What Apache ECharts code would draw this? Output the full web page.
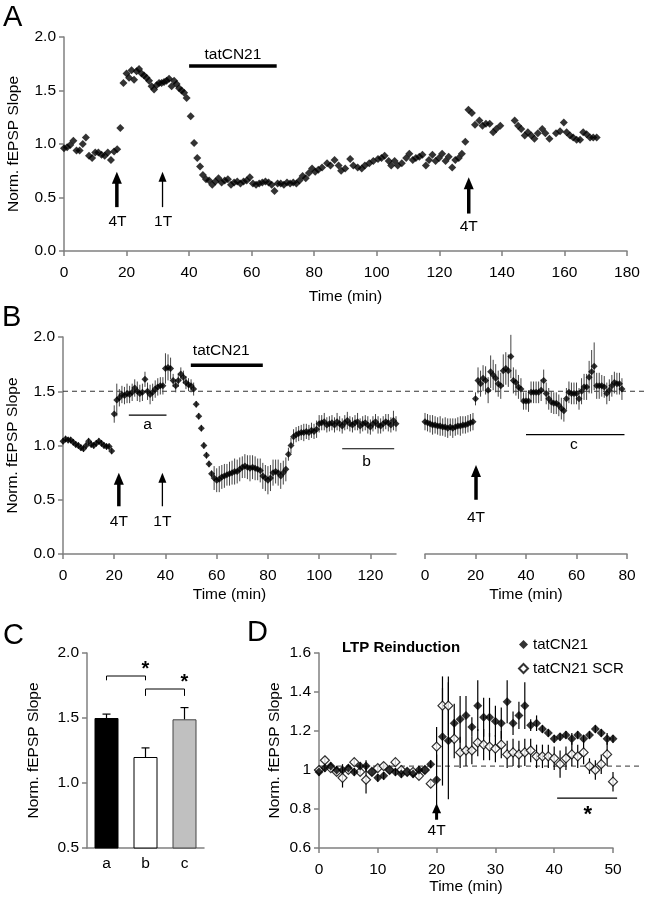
<!DOCTYPE html>
<html><head><meta charset="utf-8">
<script src="https://cdn.jsdelivr.net/npm/echarts@6/dist/echarts.min.js"></script>
<style>html,body{margin:0;padding:0;background:#fff}#c{width:648px;height:900px}</style>
</head><body><div id="c"></div>
<script>
// ---------- DATA ----------
// Panel A: single experiment, time (min) and normalized slope
const aTime = [0,1,2,3,4,5,6,7,8,9,10,11,12,13,14,15,16,17,18,19,20,20.8,21.6,22.4,23.2,24,24.8,25.6,26.4,27.2,28,28.8,29.6,30.4,31.2,32,32.8,33.6,34.4,35.2,36,36.8,37.6,38.4,39.2,40.5,41.6,42.6,43.5,44.4,45.4,46.4,47.4,48.4,49.4,50.4,51.4,52.4,53.4,54.4,55.4,56.4,57.4,58.4,59.4,60.4,61.4,62.4,63.4,64.4,65.4,66.4,67.3,68.3,69.3,70.3,71.3,72.3,73.3,74.3,75.3,76.3,77.3,78.3,79.3,80.3,81.3,82.5,84.1,85.2,86.5,87.8,88.6,89.9,91.5,92.5,93.9,95.2,96.2,97.6,98.9,100.4,101.5,102.5,103.8,104.6,105.7,106.7,108,109.4,110.4,111.5,112.5,113.6,114.6,115.7,116.7,117.8,118.8,119.9,120.9,122,123,124.1,125.1,126.2,127.2,128.3,129.3,130.4,131.4,132.8,133.8,134.9,136.1,137.2,138.2,139.5,144.1,145.2,146.2,147.3,148.3,149.4,150.4,151.5,152.9,153.9,155.2,157.3,158.6,159.8,160.7,161.8,162.8,163.9,165,166,167.1,168.2,169.2,170.3];
const aSlope = [0.96,0.97,0.99,1.03,0.94,0.94,1.00,1.06,0.89,0.87,0.92,0.92,0.90,0.89,0.92,0.85,0.93,0.95,1.15,1.57,1.66,1.62,1.69,1.60,1.68,1.70,1.66,1.64,1.62,1.59,1.54,1.51,1.55,1.57,1.57,1.58,1.59,1.61,1.54,1.59,1.56,1.52,1.50,1.48,1.43,1.26,1.01,0.87,0.79,0.71,0.67,0.66,0.62,0.65,0.68,0.64,0.66,0.67,0.62,0.64,0.65,0.63,0.65,0.66,0.69,0.63,0.62,0.63,0.64,0.65,0.64,0.62,0.56,0.63,0.63,0.62,0.64,0.63,0.64,0.63,0.66,0.70,0.68,0.73,0.77,0.74,0.76,0.78,0.82,0.80,0.85,0.80,0.75,0.77,0.86,0.80,0.78,0.77,0.80,0.82,0.84,0.86,0.87,0.89,0.84,0.80,0.84,0.80,0.82,0.87,0.91,0.85,0.87,0.88,0.90,0.80,0.85,0.90,0.84,0.87,0.91,0.84,0.88,0.78,0.85,0.87,0.91,1.02,1.32,1.29,1.18,1.22,1.17,1.19,1.19,1.11,1.14,1.17,1.22,1.17,1.14,1.08,1.11,1.08,1.05,1.10,1.14,1.10,1.05,1.10,1.12,1.20,1.11,1.08,1.06,1.04,1.04,1.11,1.09,1.06,1.06,1.06];

// Panel B (left): mean ± SEM, one point per minute from 0 to 130
const bLeftMean = [1.04,1.06,1.05,1.05,1.03,1.01,1.00,0.98,0.97,1.00,1.04,1.01,1.00,1.02,1.04,1.02,1.00,0.99,0.99,0.95,
  1.29,1.42,1.44,1.47,1.46,1.48,1.47,1.49,1.53,1.50,1.48,1.49,1.61,1.50,1.47,1.49,1.52,1.54,1.55,1.55,1.71,1.72,1.71,1.60,1.55,1.60,1.66,1.63,1.58,1.56,1.55,1.52,
  1.38,1.27,1.16,1.00,0.91,0.83,0.74,0.70,0.68,0.69,0.71,0.72,0.73,0.74,0.75,0.76,0.76,0.78,0.80,0.81,0.80,0.79,0.80,0.79,0.78,0.77,0.72,0.70,0.68,0.70,0.75,0.76,0.75,0.72,0.75,0.78,0.92,
  1.00,1.08,1.10,1.11,1.12,1.12,1.13,1.12,1.14,1.13,1.15,1.20,1.21,1.22,1.19,1.20,
  1.21,1.19,1.22,1.20,1.18,1.21,1.23,1.20,1.19,1.21,1.22,1.18,1.20,1.21,1.19,1.17,1.20,1.22,1.19,1.18,1.20,1.22,1.21,1.19,1.23,1.20];
const bLeftSem = [0.03,0.03,0.03,0.03,0.03,0.03,0.03,0.03,0.03,0.03,0.03,0.03,0.03,0.03,0.03,0.03,0.03,0.03,0.03,0.03,
  0.08,0.15,0.08,0.08,0.08,0.09,0.08,0.08,0.08,0.09,0.08,0.08,0.07,0.08,0.09,0.08,0.08,0.08,0.08,0.08,0.14,0.12,0.10,0.06,0.06,0.06,0.06,0.06,0.06,0.06,0.06,0.06,
  0.03,0.03,0.03,0.03,0.03,0.03,0.03,0.11,0.11,0.12,0.11,0.11,0.10,0.11,0.11,0.12,0.11,0.11,0.10,0.11,0.11,0.12,0.11,0.11,0.10,0.11,0.12,0.12,0.13,0.12,0.12,0.11,0.12,0.12,0.11,0.11,0.06,
  0.07,0.07,0.07,0.07,0.07,0.08,0.07,0.07,0.07,0.07,0.08,0.08,0.07,0.08,0.07,0.07,
  0.07,0.07,0.08,0.07,0.07,0.07,0.08,0.07,0.07,0.07,0.08,0.07,0.07,0.07,0.08,0.07,0.07,0.07,0.08,0.07,0.07,0.07,0.08,0.07,0.09,0.07];

// Panel B (right): mean ± SEM, one point per minute from 0 to 78
const bRightMean = [1.22,1.21,1.20,1.19,1.19,1.18,1.18,1.17,1.17,1.16,1.17,1.16,1.17,1.18,1.18,1.19,1.19,1.20,1.21,1.22,
  1.43,1.60,1.57,1.62,1.60,1.51,1.68,1.65,1.62,1.57,1.55,1.69,1.71,1.69,1.82,1.60,1.58,1.54,1.52,1.41,1.41,1.41,1.49,1.49,1.49,1.49,1.51,1.60,1.48,1.43,
  1.40,1.39,1.39,1.37,1.34,1.32,1.43,1.49,1.48,1.48,1.48,1.43,1.50,1.54,1.54,1.63,1.68,1.73,1.55,1.55,1.55,1.54,1.48,1.51,1.55,1.58,1.57,1.57,1.52];
const bRightSem = [0.08,0.08,0.08,0.09,0.08,0.08,0.09,0.08,0.09,0.09,0.08,0.09,0.08,0.08,0.09,0.08,0.08,0.08,0.08,0.08,
  0.06,0.12,0.12,0.12,0.13,0.12,0.15,0.14,0.13,0.12,0.12,0.15,0.15,0.15,0.2,0.12,0.12,0.11,0.1,0.08,0.08,0.1,0.1,0.1,0.1,0.1,0.1,0.1,0.1,0.1,
  0.1,0.1,0.1,0.1,0.1,0.1,0.1,0.1,0.1,0.1,0.1,0.1,0.12,0.12,0.12,0.15,0.2,0.22,0.12,0.12,0.1,0.1,0.1,0.1,0.1,0.1,0.1,0.1,0.1];
const bReference = 1.5;

// Panel C: period averages
const cCats = ['a','b','c'];
const cMean = [1.50, 1.20, 1.49];
const cSem = [0.03, 0.07, 0.09];

// Panel D: LTP reinduction, one point per minute 0..50
const dFilled = [0.99,1.01,1.02,1.00,1.00,1.01,0.99,1.02,1.02,0.99,0.96,0.97,1.00,0.99,0.98,0.99,0.98,1.00,1.00,1.03,0.95,1.17,1.15,1.24,1.26,1.28,1.22,1.33,1.27,1.27,1.25,1.24,1.35,1.24,1.28,1.33,1.23,1.24,1.21,1.19,1.16,1.17,1.18,1.16,1.18,1.16,1.18,1.21,1.19,1.16,1.16];
const dFilledSem = [0.02,0.02,0.02,0.02,0.03,0.02,0.02,0.02,0.03,0.02,0.02,0.02,0.02,0.02,0.02,0.02,0.02,0.02,0.02,0.02,0.13,0.25,0.3,0.1,0.12,0.1,0.05,0.13,0.1,0.1,0.08,0.08,0.11,0.06,0.07,0.12,0.03,0.04,0.02,0.02,0.02,0.02,0.02,0.03,0.02,0.02,0.02,0.02,0.02,0.03,0.02];
const dOpen = [1.00,1.05,1.01,0.99,0.96,1.00,1.04,0.99,0.95,0.99,1.01,1.02,1.00,1.04,1.00,0.99,0.99,0.97,1.00,0.93,1.12,1.33,1.33,1.16,1.09,1.10,1.10,1.14,1.13,1.12,1.11,1.13,1.08,1.09,1.08,1.09,1.10,1.07,1.07,1.07,1.06,1.03,1.06,1.08,1.07,1.09,1.02,1.00,1.03,1.08,0.94];
const dOpenSem = [0.02,0.02,0.02,0.02,0.05,0.02,0.02,0.02,0.07,0.02,0.02,0.02,0.02,0.02,0.02,0.02,0.02,0.02,0.02,0.02,0.1,0.15,0.15,0.1,0.08,0.08,0.07,0.07,0.08,0.07,0.07,0.07,0.07,0.07,0.07,0.07,0.06,0.06,0.06,0.06,0.06,0.07,0.06,0.06,0.06,0.06,0.04,0.05,0.05,0.06,0.05];
const dReference = 1.02;
const dNames = ['tatCN21', 'tatCN21 SCR'];

// ---------- CHART ----------
const FONT = '"Liberation Sans", Arial, sans-serif';
const AX = '#808080';
const chart = echarts.init(document.getElementById('c'), null, {renderer: 'canvas'});

function axis(o) {
  const base = {
    type: 'value', nameLocation: 'middle',
    axisLine: {show: true, lineStyle: {color: AX, width: 1.5}},
    axisTick: {show: true, length: 5, lineStyle: {color: AX, width: 1.5}},
    axisLabel: {color: '#000', fontSize: 15.5, fontFamily: FONT},
    splitLine: {show: false},
    nameTextStyle: {color: '#000', fontSize: 15.5, fontFamily: FONT}
  };
  const r = Object.assign({}, base, o);
  ['axisLine','axisTick','axisLabel','nameTextStyle'].forEach(k => { if (o[k]) r[k] = Object.assign({}, base[k], o[k]); });
  return r;
}
const hidden = o => Object.assign({type: 'value', show: false, splitLine: {show: false}}, o);

const zip = (xs, ys) => xs.map((x, i) => [x, ys[i]]);
const idx = arr => arr.map((v, i) => i);

function errSeries(xi, yi, xs, m, e, color, lw) {
  return {
    type: 'custom', xAxisIndex: xi, yAxisIndex: yi, silent: true, z: 2,
    data: xs.map((x, i) => [x, m[i], e[i]]),
    renderItem: (p, api) => {
      const a = api.coord([api.value(0), api.value(1) + api.value(2)]);
      const b = api.coord([api.value(0), api.value(1) - api.value(2)]);
      return {type: 'line', shape: {x1: a[0], y1: a[1], x2: b[0], y2: b[1]}, style: {stroke: color, lineWidth: lw}};
    }
  };
}

function annSeries(xi, yi, items) {
  return {
    type: 'custom', xAxisIndex: xi, yAxisIndex: yi, silent: true, z: 5,
    data: items.map(it => [it.x !== undefined ? it.x : it.x0, it.y !== undefined ? it.y : it.y0]),
    renderItem: (p, api) => {
      const it = items[p.dataIndex];
      if (it.kind === 'arrow') {
        const b = api.coord([it.x, it.y0]), t = api.coord([it.x, it.y1]);
        return {type: 'group', children: [
          {type: 'line', shape: {x1: b[0], y1: b[1], x2: t[0], y2: t[1] + it.hl - 1}, style: {stroke: '#000', lineWidth: it.w}},
          {type: 'polygon', shape: {points: [[t[0], t[1]], [t[0] - it.hw / 2, t[1] + it.hl], [t[0] + it.hw / 2, t[1] + it.hl]]}, style: {fill: '#000'}}
        ]};
      }
      if (it.kind === 'hbar') {
        const a = api.coord([it.x0, it.y]), b = api.coord([it.x1, it.y]);
        return {type: 'line', shape: {x1: a[0], y1: a[1], x2: b[0], y2: b[1]}, style: {stroke: '#000', lineWidth: it.w}};
      }
      if (it.kind === 'bracket') {
        const a = api.coord([it.x0, it.y0]), b = api.coord([it.x1, it.y0]);
        const a2 = api.coord([it.x0, it.y1]), b2 = api.coord([it.x1, it.y1]);
        return {type: 'polyline', shape: {points: [a2, a, b, b2]}, style: {stroke: '#000', lineWidth: 1, fill: null}};
      }
      if (it.kind === 'text') {
        const c = api.coord([it.x, it.y]);
        return {type: 'text', x: c[0], y: c[1], style: {text: it.text, fill: '#000', fontSize: it.size || 15.5, fontFamily: FONT, fontWeight: it.bold ? 'bold' : 'normal', align: 'center', verticalAlign: 'middle'}};
      }
    }
  };
}

const THICK = {w: 3.5, hw: 10, hl: 12};
const THIN = {w: 1.3, hw: 8, hl: 10};

const option = {
  animation: false,
  backgroundColor: '#fff',
  textStyle: {fontFamily: FONT},
  grid: [
    {left: 64, top: 37, width: 563, height: 214, outerBoundsMode: 'none', containLabel: false},
    {left: 63, top: 337, width: 333, height: 217, outerBoundsMode: 'none', containLabel: false},
    {left: 425, top: 337, width: 202, height: 217, outerBoundsMode: 'none', containLabel: false},
    {left: 63, top: 337, width: 585, height: 217, outerBoundsMode: 'none', containLabel: false},
    {left: 87, top: 653, width: 117, height: 195, outerBoundsMode: 'none', containLabel: false},
    {left: 319, top: 653, width: 294, height: 195, outerBoundsMode: 'none', containLabel: false},
    {left: 319, top: 653, width: 324, height: 195, outerBoundsMode: 'none', containLabel: false}
  ],
  xAxis: [
    axis({gridIndex: 0, min: 0, max: 180, interval: 20, name: 'Time (min)', nameGap: 38, axisLabel: {margin: 14}}),
    axis({gridIndex: 1, min: 0, max: 130, interval: 20, name: 'Time (min)', nameGap: 33, axisLabel: {margin: 14, showMaxLabel: false}}),
    axis({gridIndex: 2, min: 0, max: 80, interval: 20, name: 'Time (min)', nameGap: 33, axisLabel: {margin: 14}}),
    hidden({gridIndex: 3, min: 0, max: 1}),
    axis({gridIndex: 4, type: 'category', data: cCats, axisTick: {show: false}, axisLabel: {margin: 8}}),
    axis({gridIndex: 5, min: 0, max: 50, interval: 10, name: 'Time (min)', nameGap: 31, axisLabel: {margin: 14}}),
    hidden({gridIndex: 6, min: 0, max: 55})
  ],
  yAxis: [
    axis({gridIndex: 0, min: 0, max: 2, interval: 0.5, name: 'Norm. fEPSP Slope', nameGap: 42, axisLabel: {formatter: v => v.toFixed(1)}}),
    axis({gridIndex: 1, min: 0, max: 2, interval: 0.5, name: 'Norm. fEPSP Slope', nameGap: 42, axisLabel: {formatter: v => v.toFixed(1)}}),
    hidden({gridIndex: 2, min: 0, max: 2}),
    hidden({gridIndex: 3, min: 0, max: 2}),
    axis({gridIndex: 4, min: 0.5, max: 2, interval: 0.5, name: 'Norm. fEPSP Slope', nameGap: 45, axisLabel: {formatter: v => v.toFixed(1)}}),
    axis({gridIndex: 5, min: 0.6, max: 1.6, interval: 0.2, name: 'Norm. fEPSP Slope', nameGap: 36}),
    hidden({gridIndex: 6, min: 0.6, max: 1.6})
  ],
  legend: {
    orient: 'vertical', left: 513, top: 632, itemWidth: 9, itemHeight: 9, itemGap: 9,
    data: [{name: dNames[0], icon: 'diamond'}, {name: dNames[1], icon: 'diamond'}],
    textStyle: {color: '#000', fontSize: 15, fontFamily: FONT},
    selectedMode: false
  },
  graphic: [
    {type: 'text', left: 3, top: 3, style: {text: 'A', fontSize: 29, fontFamily: FONT, fill: '#000'}},
    {type: 'text', left: 2, top: 303, style: {text: 'B', fontSize: 29, fontFamily: FONT, fill: '#000'}},
    {type: 'text', left: 3, top: 621, style: {text: 'C', fontSize: 29, fontFamily: FONT, fill: '#000'}},
    {type: 'text', left: 247, top: 618, style: {text: 'D', fontSize: 29, fontFamily: FONT, fill: '#000'}},
    {type: 'text', left: 342, top: 640, style: {text: 'LTP Reinduction', fontSize: 15, fontWeight: 'bold', fontFamily: FONT, fill: '#000'}}
  ],
  series: [
    // A
    {type: 'scatter', xAxisIndex: 0, yAxisIndex: 0, data: zip(aTime, aSlope), symbol: 'diamond', symbolSize: 8, itemStyle: {color: '#000'}, silent: true},
    annSeries(0, 0, [
      Object.assign({kind: 'arrow', x: 16.9, y0: 0.41, y1: 0.74}, THICK),
      Object.assign({kind: 'arrow', x: 31.5, y0: 0.41, y1: 0.74}, THIN),
      Object.assign({kind: 'arrow', x: 129.4, y0: 0.35, y1: 0.69}, THICK),
      {kind: 'text', x: 17.1, y: 0.275, text: '4T'},
      {kind: 'text', x: 31.7, y: 0.275, text: '1T'},
      {kind: 'text', x: 129.4, y: 0.225, text: '4T'},
      {kind: 'hbar', x0: 40, x1: 68, y: 1.73, w: 3.5},
      {kind: 'text', x: 54, y: 1.83, text: 'tatCN21'}
    ]),
    // B left
    errSeries(1, 1, idx(bLeftMean), bLeftMean, bLeftSem, '#444', 1),
    {type: 'scatter', xAxisIndex: 1, yAxisIndex: 1, data: zip(idx(bLeftMean), bLeftMean), symbol: 'diamond', symbolSize: 7, itemStyle: {color: '#000'}, silent: true, z: 3},
    // B right
    errSeries(2, 2, idx(bRightMean), bRightMean, bRightSem, '#444', 1),
    {type: 'scatter', xAxisIndex: 2, yAxisIndex: 2, data: zip(idx(bRightMean), bRightMean), symbol: 'diamond', symbolSize: 7, itemStyle: {color: '#000'}, silent: true, z: 3},
    // B dashed reference
    {type: 'line', xAxisIndex: 3, yAxisIndex: 3, data: [[0, bReference], [1, bReference]], symbol: 'none', silent: true, z: 1, lineStyle: {color: '#333', width: 1, type: [5, 4]}},
    annSeries(1, 1, [
      Object.assign({kind: 'arrow', x: 21.8, y0: 0.44, y1: 0.75}, THICK),
      Object.assign({kind: 'arrow', x: 38.8, y0: 0.44, y1: 0.75}, THIN),
      {kind: 'text', x: 21.8, y: 0.3, text: '4T'},
      {kind: 'text', x: 38.8, y: 0.3, text: '1T'},
      {kind: 'hbar', x0: 49.9, x1: 78, y: 1.74, w: 3.5},
      {kind: 'text', x: 61.8, y: 1.87, text: 'tatCN21'},
      {kind: 'hbar', x0: 25.7, x1: 40.4, y: 1.28, w: 1.2},
      {kind: 'text', x: 33, y: 1.19, text: 'a'},
      {kind: 'hbar', x0: 109, x1: 129.3, y: 0.97, w: 1.2},
      {kind: 'text', x: 118.5, y: 0.85, text: 'b'}
    ]),
    annSeries(2, 2, [
      Object.assign({kind: 'arrow', x: 20.2, y0: 0.5, y1: 0.82}, THICK),
      {kind: 'text', x: 20.2, y: 0.33, text: '4T'},
      {kind: 'hbar', x0: 40, x1: 79, y: 1.10, w: 1.2},
      {kind: 'text', x: 59, y: 1.01, text: 'c'}
    ]),
    // C
    {type: 'bar', xAxisIndex: 4, yAxisIndex: 4, barWidth: 24, silent: true,
      data: cMean.map((v, i) => ({value: v, itemStyle: {color: ['#000', '#fff', '#c0c0c0'][i], borderColor: i === 2 ? '#444' : '#000', borderWidth: 1}}))},
    {type: 'custom', xAxisIndex: 4, yAxisIndex: 4, silent: true, z: 3,
      data: cMean.map((v, i) => [i, v, cSem[i]]),
      renderItem: (p, api) => {
        const b = api.coord([api.value(0), api.value(1)]);
        const t = api.coord([api.value(0), api.value(1) + api.value(2)]);
        return {type: 'group', children: [
          {type: 'line', shape: {x1: b[0], y1: b[1], x2: t[0], y2: t[1]}, style: {stroke: '#000', lineWidth: 1.2}},
          {type: 'line', shape: {x1: t[0] - 4, y1: t[1], x2: t[0] + 4, y2: t[1]}, style: {stroke: '#000', lineWidth: 1.2}}
        ]};
      }},
    annSeries(4, 4, [
      {kind: 'bracket', x0: 0, x1: 1, y0: 1.823, y1: 1.79},
      {kind: 'text', x: 0.5, y: 1.87, text: '*', size: 20, bold: true},
      {kind: 'bracket', x0: 1, x1: 2, y0: 1.723, y1: 1.67},
      {kind: 'text', x: 1.5, y: 1.77, text: '*', size: 20, bold: true}
    ]),
    // D
    {type: 'line', xAxisIndex: 6, yAxisIndex: 6, data: [[0, dReference], [55, dReference]], symbol: 'none', silent: true, z: 1, lineStyle: {color: '#333', width: 1, type: [5, 4]}},
    errSeries(5, 5, idx(dOpen), dOpen, dOpenSem, '#000', 1.2),
    errSeries(5, 5, idx(dFilled), dFilled, dFilledSem, '#000', 1.2),
    {type: 'scatter', name: dNames[1], xAxisIndex: 5, yAxisIndex: 5, data: zip(idx(dOpen), dOpen), symbol: 'diamond', symbolSize: 9, itemStyle: {color: '#fff', borderColor: '#000', borderWidth: 1.2}, silent: true, z: 3},
    {type: 'scatter', name: dNames[0], xAxisIndex: 5, yAxisIndex: 5, data: zip(idx(dFilled), dFilled), symbol: 'diamond', symbolSize: 9, itemStyle: {color: '#000'}, silent: true, z: 4},
    annSeries(5, 5, [
      Object.assign({kind: 'arrow', x: 20, y0: 0.745, y1: 0.83}, {w: 3, hw: 9, hl: 10}),
      {kind: 'text', x: 20, y: 0.69, text: '4T'},
      {kind: 'hbar', x0: 40.5, x1: 50.7, y: 0.856, w: 1.2},
      {kind: 'text', x: 45.7, y: 0.77, text: '*', size: 22, bold: true}
    ])
  ]
};
chart.setOption(option);
</script></body></html>
